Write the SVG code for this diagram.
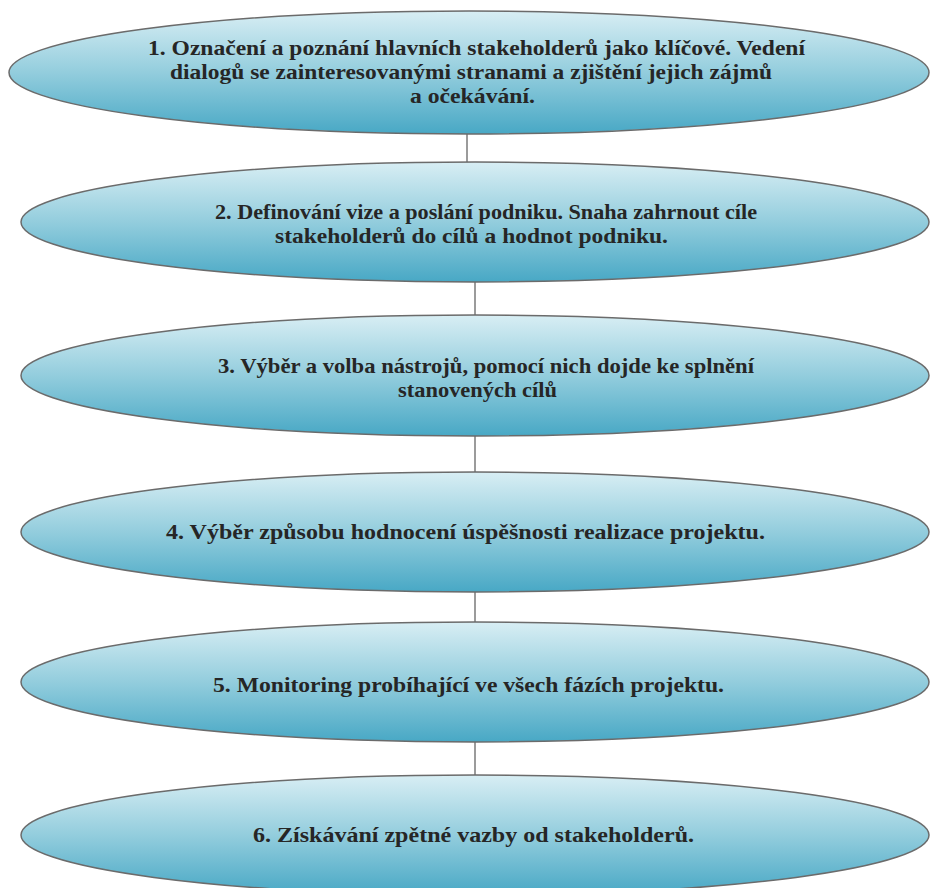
<svg xmlns="http://www.w3.org/2000/svg" width="930" height="888" viewBox="0 0 930 888">
<defs>
<linearGradient id="g" x1="0" y1="0" x2="0" y2="1">
<stop offset="0" stop-color="#d8eef4"/>
<stop offset="0.5" stop-color="#93cddd"/>
<stop offset="1" stop-color="#48a8c5"/>
</linearGradient>
</defs>
<style>
.n ellipse{fill:url(#g);stroke:#6b6b6b;stroke-width:1.5}
.n text{font-family:"Liberation Serif","Times New Roman",serif;font-weight:bold;font-size:22px;fill:#262626;text-anchor:middle}
#connectors line{stroke:#7a7a7a;stroke-width:1.5}
</style>
<rect width="930" height="888" fill="#ffffff"/>
<g id="connectors">
<line x1="467" y1="134" x2="467" y2="162"/>
<line x1="475" y1="282" x2="475" y2="315"/>
<line x1="475" y1="436" x2="475" y2="472"/>
<line x1="475" y1="592" x2="475" y2="622"/>
<line x1="475" y1="742" x2="475" y2="775"/>
</g>
<g id="n1" class="n">
<ellipse cx="469" cy="72.5" rx="460" ry="61.5"/>
<text x="476.5" y="55" textLength="657" lengthAdjust="spacingAndGlyphs">1. Označení a poznání hlavních stakeholderů jako klíčové. Vedení</text>
<text x="471" y="79" textLength="602" lengthAdjust="spacingAndGlyphs">dialogů se zainteresovanými stranami a zjištění jejich zájmů</text>
<text x="472.5" y="103" textLength="125" lengthAdjust="spacingAndGlyphs">a očekávání.</text>
</g>
<g id="n2" class="n">
<ellipse cx="475" cy="222" rx="454" ry="60"/>
<text x="486" y="219" textLength="542" lengthAdjust="spacingAndGlyphs">2. Definování vize a poslání podniku. Snaha zahrnout cíle</text>
<text x="471.5" y="243" textLength="393" lengthAdjust="spacingAndGlyphs">stakeholderů do cílů a hodnot podniku.</text>
</g>
<g id="n3" class="n">
<ellipse cx="475" cy="375.5" rx="454" ry="60.5"/>
<text x="486" y="373" textLength="536" lengthAdjust="spacingAndGlyphs">3. Výběr a volba nástrojů, pomocí nich dojde ke splnění</text>
<text x="477.5" y="397" textLength="159" lengthAdjust="spacingAndGlyphs">stanovených cílů</text>
</g>
<g id="n4" class="n">
<ellipse cx="475" cy="532" rx="454" ry="60"/>
<text x="465.5" y="539" textLength="599" lengthAdjust="spacingAndGlyphs">4. Výběr způsobu hodnocení úspěšnosti realizace projektu.</text>
</g>
<g id="n5" class="n">
<ellipse cx="475" cy="682" rx="454" ry="60"/>
<text x="468.5" y="692" textLength="511" lengthAdjust="spacingAndGlyphs">5. Monitoring probíhající ve všech fázích projektu.</text>
</g>
<g id="n6" class="n">
<ellipse cx="475" cy="835" rx="454" ry="60"/>
<text x="473.5" y="842" textLength="441" lengthAdjust="spacingAndGlyphs">6. Získávání zpětné vazby od stakeholderů.</text>
</g>
</svg>
